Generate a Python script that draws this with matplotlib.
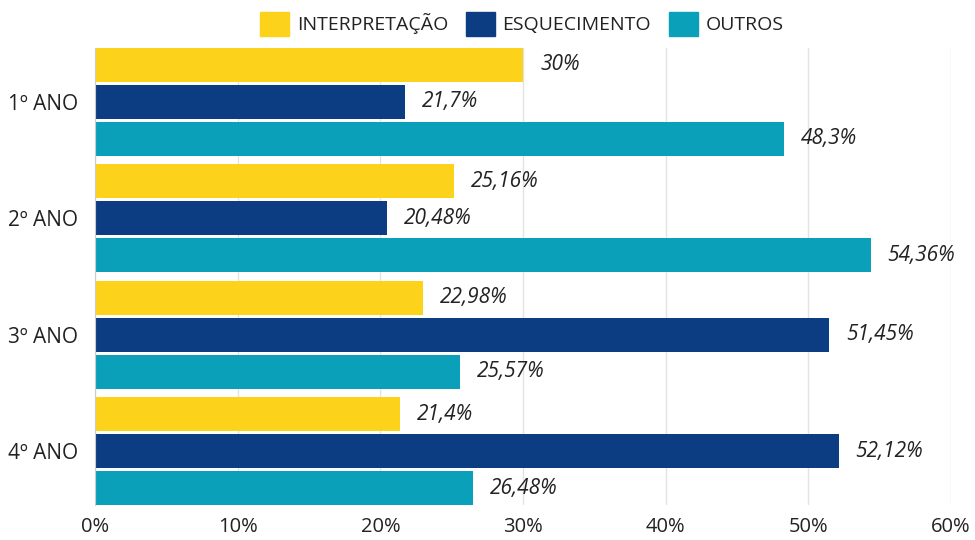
import matplotlib
matplotlib.use("Agg")
import matplotlib.pyplot as plt
import numpy as np
from matplotlib.patches import Patch

plt.rcParams['font.family'] = ['Open Sans', 'DejaVu Sans']

# data
categorias = ["1º ANO", "2º ANO", "3º ANO", "4º ANO"]
series = ["INTERPRETAÇÃO", "ESQUECIMENTO", "OUTROS"]
interpretacao = [30, 25.16, 22.98, 21.4]
esquecimento = [21.7, 20.48, 51.45, 52.12]
outros = [48.3, 54.36, 25.57, 26.48]
rotulos_interp = ["30%", "25,16%", "22,98%", "21,4%"]
rotulos_esq = ["21,7%", "20,48%", "51,45%", "52,12%"]
rotulos_out = ["48,3%", "54,36%", "25,57%", "26,48%"]
cores = ["#FDD21B", "#0C3D82", "#0BA0BA"]

fig = plt.figure(figsize=(9.75, 5.4), dpi=100)
ax = fig.add_axes([0.0974, 0.065, 0.878, 0.846])

y = np.arange(len(categorias))
passo = 0.318
altura = 0.29
valores = [interpretacao, esquecimento, outros]
rotulos = [rotulos_interp, rotulos_esq, rotulos_out]

for i, (vals, labs, cor) in enumerate(zip(valores, rotulos, cores)):
    pos = y + (i - 1) * passo
    ax.barh(pos, vals, height=altura, color=cor, zorder=2)
    for p, v, t in zip(pos, vals, labs):
        ax.text(v + 1.2, p, t, va="center", ha="left", fontsize=15,
                fontstyle="italic", color="#222222")

ax.set_xlim(0, 60)
ax.set_ylim(3 + passo + altura / 2, -passo - altura / 2)
ax.set_xticks(range(0, 61, 10))
ax.set_xticklabels([f"{v}%" for v in range(0, 61, 10)], fontsize=14.5, color="#222222")
ax.set_yticks(y)
ax.set_yticklabels(categorias, fontsize=15, color="#222222")
ax.tick_params(length=0, pad=9)
ax.tick_params(axis="y", pad=12)

ax.grid(axis="x", color="#e3e3e3", linewidth=1, zorder=0)
for s in ["top", "right", "bottom"]:
    ax.spines[s].set_visible(False)
ax.spines["left"].set_color("#cccccc")

handles = [Patch(color=c) for c in cores]
fig.legend(handles, series, loc="upper center", bbox_to_anchor=(0.535, 1.01),
           ncol=3, frameon=False, fontsize=14, handlelength=1.5, handleheight=1.5,
           handletextpad=0.4, columnspacing=0.9, labelcolor="#222222")

fig.savefig("out.png", dpi=100)
